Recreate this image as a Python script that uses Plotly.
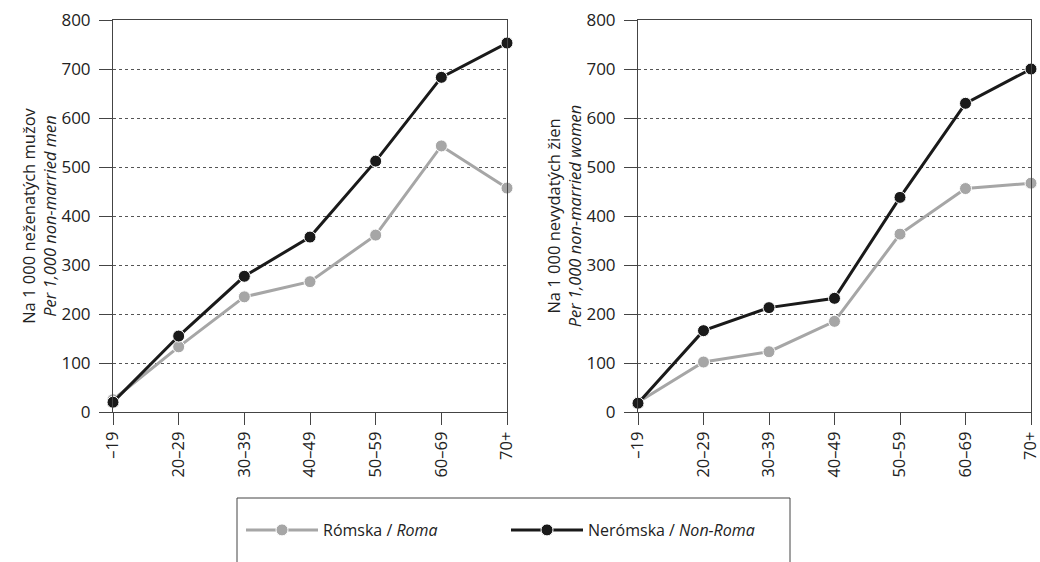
import plotly.graph_objects as go
from plotly.subplots import make_subplots

age_groups = ["–19", "20–29", "30–39", "40–49", "50–59", "60–69", "70+"]

men_roma = [25, 133, 235, 266, 361, 543, 457]
men_nonroma = [20, 155, 277, 357, 512, 683, 753]
women_roma = [20, 102, 123, 185, 363, 456, 467]
women_nonroma = [18, 166, 213, 232, 438, 630, 700]

roma_name = "Rómska / <i>Roma</i>"
nonroma_name = "Nerómska / <i>Non-Roma</i>"
roma_color = "#a6a6a6"
nonroma_color = "#1a1a1a"

font_family = "Open Sans, Noto Sans, sans-serif"

fig = make_subplots(rows=1, cols=2)


def add_series(col, values, name, color, show):
    fig.add_trace(go.Scatter(
        x=age_groups, y=values, name=name,
        mode="lines+markers",
        line=dict(color=color, width=3),
        marker=dict(size=12, color=color, line=dict(color="white", width=1)),
        showlegend=show,
        cliponaxis=False,
    ), row=1, col=col)


add_series(1, men_roma, roma_name, roma_color, True)
add_series(1, men_nonroma, nonroma_name, nonroma_color, True)
add_series(2, women_roma, roma_name, roma_color, False)
add_series(2, women_nonroma, nonroma_name, nonroma_color, False)

axis_common_x = dict(
    type="category", range=[0, 6], tickangle=-90, automargin=False,
    showline=True, linecolor="#444", linewidth=1, mirror=True,
    ticks="outside", ticklen=12, tickcolor="#444",
    showgrid=False, tickfont=dict(size=16.5, color="#222"),
)
axis_common_y = dict(
    range=[0, 800], dtick=100, automargin=False,
    showline=True, linecolor="#444", linewidth=1, mirror=True,
    ticks="outside", ticklen=13, tickcolor="#444", ticklabelstandoff=5,
    showgrid=True, gridcolor="#555", griddash="dot", gridwidth=1,
    zeroline=False, tickfont=dict(size=17, color="#222"),
    title_standoff=0, title_font=dict(size=16.5, color="#222"),
)

fig.update_xaxes(**axis_common_x)
fig.update_yaxes(**axis_common_y)

fig.update_layout(
    xaxis=dict(domain=[113 / 1040, 507 / 1040]),
    xaxis2=dict(domain=[638 / 1040, 1031 / 1040]),
    yaxis=dict(domain=[150 / 562, 542 / 562],
               title_text="Na 1 000 neženatých mužov<br><i>Per 1,000 non-married men</i>"),
    yaxis2=dict(domain=[150 / 562, 542 / 562],
                title_text="Na 1 000 nevydatých žien<br><i>Per 1,000 non-married women</i>"),
)

# legend frame (bottom edge falls outside the picture)
fig.add_shape(type="rect", xref="paper", yref="paper",
              x0=237 / 1040, x1=790 / 1040, y0=-0.2, y1=(562 - 498) / 562,
              line=dict(color="#444", width=1), fillcolor="rgba(0,0,0,0)")

fig.update_layout(
    width=1040, height=562,
    margin=dict(l=0, r=0, t=0, b=0, autoexpand=False),
    paper_bgcolor="white", plot_bgcolor="white",
    font=dict(family=font_family, color="#222"),
    legend=dict(
        orientation="h", x=241 / 1040, y=(562 - 530) / 562,
        xanchor="left", yanchor="middle",
        font=dict(size=16, color="#222"),
        itemwidth=72, entrywidth=178,
        bgcolor="rgba(0,0,0,0)",
    ),
)

fig.write_html("out.html", config={"displayModeBar": False},
               post_script="document.body.style.margin='0';")
